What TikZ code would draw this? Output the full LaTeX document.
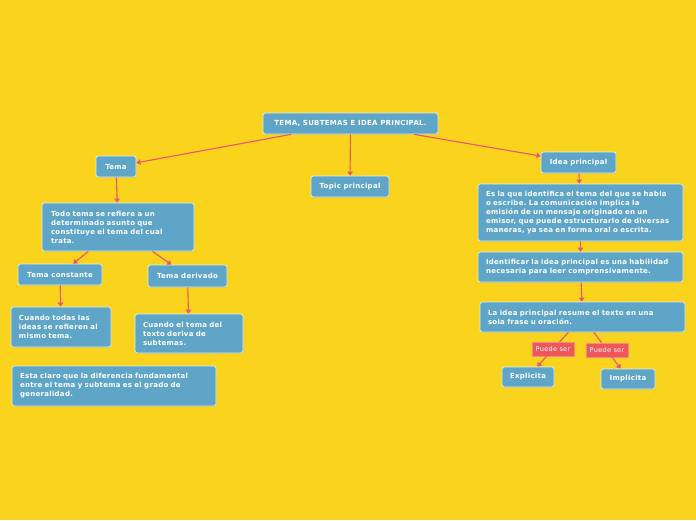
\documentclass[tikz,border=0pt]{standalone}
\usepackage{fontspec}
\setmainfont{DejaVu Sans}
\newfontfamily\mapfamily[LetterSpace=4]{DejaVu Sans}
\usetikzlibrary{arrows.meta, shadows}
\definecolor{bgyellow}{RGB}{249,211,28}
\definecolor{boxblue}{RGB}{94,165,200}
\definecolor{linkpink}{RGB}{236,84,112}
\definecolor{tagred}{RGB}{238,86,90}
\newcommand{\mapfont}{\mapfamily\fontsize{7}{9}\selectfont\bfseries\frenchspacing}

\begin{document}
\begin{tikzpicture}[x=1pt, y=-1pt,
  mapbox/.style={draw=white!80!boxblue, line width=0.7pt, fill=boxblue,
    rounded corners=2.5pt, text=white, font=\mapfont, inner sep=0pt,
    align=center, drop shadow={shadow xshift=0.4pt, shadow yshift=-0.8pt, opacity=0.25}},
  notebox/.style={mapbox, align=left},
  tagbox/.style={fill=tagred, draw=tagred!70!white, line width=0.4pt, text=white,
    font=\mapfamily\fontsize{6.6}{7}\selectfont, inner sep=0pt, minimum width=42pt, minimum height=14pt},
  link/.style={linkpink, line width=1.1pt, -{Triangle[width=5.5pt, length=4pt]}},
  plain/.style={linkpink, line width=1.1pt}]
  % Background
  \fill[bgyellow] (0,0) rectangle (696,520);
  % Main topic
  \node[mapbox, minimum width=175pt, minimum height=21pt] (root) at (350.5,123.5) {TEMA, SUBTEMAS E IDEA PRINCIPAL.};
  \node[mapbox, minimum width=40pt, minimum height=21pt] (tema) at (116,166.5) {Tema};
  \node[mapbox, minimum width=78pt, minimum height=21pt] (topic) at (350,186.5) {Topic principal};
  \node[mapbox, minimum width=75pt, minimum height=21pt] (idea) at (578.5,162.5) {Idea principal};
  % Left branch
  \node[notebox, minimum width=152pt, minimum height=48pt, text width=134pt] (todo) at (118,227)
    {Todo tema se refiere a un\\determinado asunto que\\constituye el tema del cual\\trata.};
  \node[mapbox, minimum width=84pt, minimum height=21pt] (constante) at (60,274.5) {Tema constante};
  \node[mapbox, minimum width=79pt, minimum height=22pt] (derivado) at (187.5,276) {Tema derivado};
  \node[notebox, minimum width=100pt, minimum height=40pt, text width=84pt] (todas) at (61,327)
    {Cuando todas las\\ideas se refieren al\\mismo tema.};
  \node[notebox, minimum width=108pt, minimum height=39pt, text width=92pt] (deriva) at (189,333.5)
    {Cuando el tema del\\texto deriva de\\subtemas.};
  \node[notebox, minimum width=204pt, minimum height=40pt, text width=188pt] (claro) at (114,386)
    {Esta claro que la diferencia fundamental\\entre el tema y subtema es el grado de\\generalidad.};
  % Right branch
  \node[notebox, minimum width=205pt, minimum height=57pt, text width=189pt] (esla) at (580.5,212.5)
    {Es la que identifica el tema del que se habla\\o escribe. La comunicación implica la\\emisión de un mensaje originado en un\\emisor, que puede estructurarlo de diversas\\maneras, ya sea en forma oral o escrita.};
  \node[notebox, minimum width=205pt, minimum height=30pt, text width=189pt] (identificar) at (580.5,267)
    {Identificar la idea principal es una habilidad\\necesaria para leer comprensivamente.};
  \node[notebox, minimum width=205pt, minimum height=30pt, text width=189pt] (resume) at (582.5,317)
    {La idea principal resume el texto en una\\sola frase u oración.};
  \node[tagbox] (ser1) at (553,349) {Puede ser};
  \node[tagbox] (ser2) at (607,350) {Puede ser};
  \node[mapbox, minimum width=52pt, minimum height=20pt] (explicita) at (528,377) {Explicita};
  \node[mapbox, minimum width=54pt, minimum height=20pt] (implicita) at (628,379) {Implicita};
  % Connectors
  \draw[link] (root) -- (tema);
  \draw[link] (root) -- (topic);
  \draw[link] (root) -- (idea);
  \draw[link] (tema) -- (todo);
  \draw[link] (todo) -- (constante);
  \draw[link] (todo) -- (derivado);
  \draw[link] (constante) -- (todas);
  \draw[link] (derivado) -- (deriva);
  \draw[link] (idea) -- (esla);
  \draw[link] (esla) -- (identificar);
  \draw[link] (identificar) -- (resume);
  \draw[plain] (resume) -- (ser1);
  \draw[link] (ser1) -- (explicita);
  \draw[plain] (resume) -- (ser2);
  \draw[link] (ser2) -- (implicita);
\end{tikzpicture}
\end{document}
